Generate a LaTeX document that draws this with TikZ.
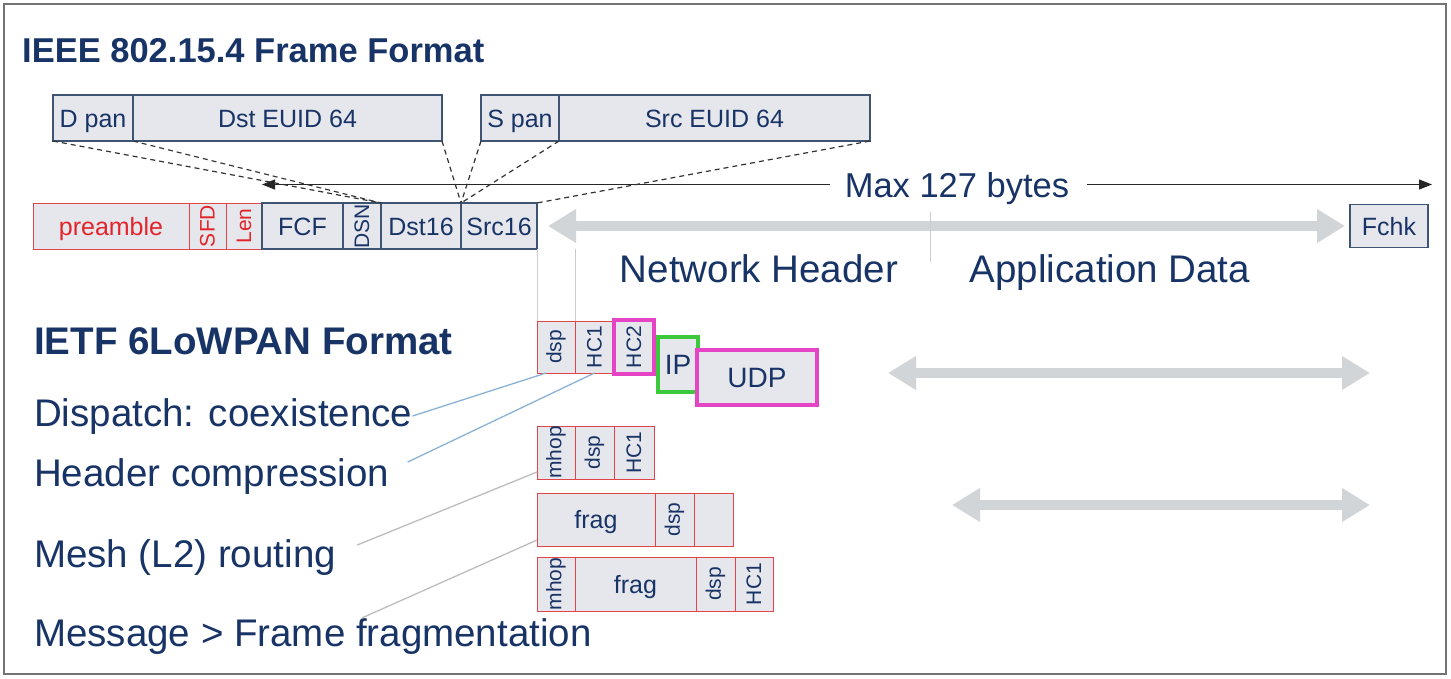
\documentclass[tikz,border=0pt]{standalone}
\usepackage{fontspec}
\setmainfont{Liberation Sans}
\usepackage{graphicx}
\usetikzlibrary{positioning, arrows.meta}

\definecolor{navy}{RGB}{24,52,102}
\definecolor{frameblue}{RGB}{61,85,115}
\definecolor{boxfill}{RGB}{230,231,236}
\definecolor{framered}{RGB}{224,69,74}
\definecolor{txtred}{RGB}{227,36,43}
\definecolor{hcmagenta}{RGB}{229,69,196}
\definecolor{ipgreen}{RGB}{60,200,60}
\definecolor{arrgrey}{RGB}{210,213,216}
\definecolor{leadblue}{RGB}{138,178,214}
\definecolor{leadgrey}{RGB}{189,189,189}

\begin{document}
\begin{tikzpicture}[x=1pt, y=-1pt,
    box/.style = {draw=frameblue, fill=boxfill, line width=1.3pt, inner sep=0pt, outer sep=0pt,
        text=navy, font=\fontsize{25}{25}\selectfont, text height=18pt, text depth=0pt, minimum height=46pt},
    rbox/.style = {box, draw=framered, line width=1pt},
    vtext/.style = {font=\fontsize{21}{21}\selectfont, text height={}, text depth={}},
    lbl/.style = {inner sep=0pt, text=navy, font=\fontsize{38.5}{40}\selectfont},
    hilite/.style = {line width=3.5pt},
    garrow/.style = {draw=arrgrey, line width=10pt, {Triangle[length=28pt,width=32pt]}-{Triangle[length=28pt,width=32pt]}},
    maxarrow/.style = {draw=black!85, line width=1.1pt, -{Triangle[length=13pt,width=10pt]}},
    dashline/.style = {draw=black!80, line width=1.2pt, dash pattern=on 5pt off 4pt},
    sepline/.style = {draw=black!20, line width=1pt}]

\useasboundingbox (0,0) rectangle (1451,678);
\fill[white] (0,0) rectangle (1451,678);
\draw[draw=black!55, line width=1.3pt] (4,4) rectangle (1446,674);

% IEEE 802.15.4
\node[lbl, anchor=base west, font=\fontsize{34.5}{36}\selectfont\bfseries] (title) at (22,62) {IEEE 802.15.4 Frame Format};

\node[box, minimum width=80pt, anchor=west] (dpan) at (53,118) {D pan};
\node[box, minimum width=309pt, right=0pt of dpan] (dsteuid) {Dst EUID 64};
\node[box, minimum width=78pt, anchor=west] (span) at (481,118) {S pan};
\node[box, minimum width=311pt, right=0pt of span] (srceuid) {Src EUID 64};

\node[rbox, text=txtred, minimum width=156pt, anchor=west] (preamble) at (33,226) {preamble};
\node[rbox, vtext, text=txtred, minimum width=37pt, right=0pt of preamble] (sfd) {\rotatebox{90}{SFD}};
\node[rbox, vtext, text=txtred, minimum width=36pt, right=0pt of sfd] (len) {\rotatebox{90}{Len}};
\node[box, minimum width=81pt, right=0pt of len] (fcf) {FCF};
\node[box, vtext, minimum width=38pt, right=0pt of fcf] (dsn) {\rotatebox{90}{DSN}};
\node[box, minimum width=80pt, right=0pt of dsn] (dst16) {Dst16};
\node[box, minimum width=76pt, right=0pt of dst16] (src16) {Src16};
\node[box, minimum width=78pt, minimum height=43pt] (fchk) at (1389,226) {Fchk};

\node[lbl, anchor=base, font=\fontsize{34.5}{36}\selectfont, text height=25pt, text depth=0pt] (maxlbl) at (957,197) {Max 127 bytes};
\coordinate (maxL) at (262,184.5);
\coordinate (maxR) at (1432,184.5);
\draw[maxarrow] ([xshift=-15pt]maxlbl.west) -- (maxL);
\draw[maxarrow] ([xshift=18pt]maxlbl.east) -- (maxR);

\draw[dashline] (dpan.south west) -- (dst16.north west);
\draw[dashline] (dpan.south east) -- (dst16.north west);
\draw[dashline] (dsteuid.south east) -- (dst16.north east);
\draw[dashline] (span.south west) -- (src16.north west);
\draw[dashline] (srceuid.south west) -- (src16.north west);
\draw[dashline] (srceuid.south east) -- (src16.north east);

\draw[garrow, shorten <=11pt, shorten >=5pt] (src16.east) -- (fchk.west);
\draw[sepline] (930,212) -- (930,262);

\node[lbl, anchor=base] (nethdr) at (759,282) {Network Header};
\node[lbl, anchor=base] (appdata) at (1110,282) {Application Data};

% IETF 6LoWPAN
\node[lbl, anchor=base west, font=\fontsize{38.5}{40}\selectfont\bfseries] (ietf) at (34,354) {IETF 6LoWPAN Format};
\node[lbl, anchor=base west] (dispatch) at (34,426) {Dispatch: coexistence};
\node[lbl, anchor=base west] (hdrc) at (34,486) {Header compression};
\node[lbl, anchor=base west] (mesh) at (34,567) {Mesh (L2) routing};
\node[lbl, anchor=base west] (msg) at (34,646) {Message > Frame fragmentation};

\node[rbox, vtext, minimum width=38pt, minimum height=52pt, anchor=west] (dsp1) at (537,347) {\rotatebox{90}{dsp}};
\node[rbox, vtext, minimum width=39pt, minimum height=52pt, right=0pt of dsp1] (hc1a) {\rotatebox{90}{HC1}};
\node[rbox, vtext, hilite, draw=hcmagenta, minimum width=40pt, minimum height=54pt, right=0pt of hc1a] (hc2) {\rotatebox{90}{HC2}};
\node[box, hilite, draw=ipgreen, font=\fontsize{28}{28}\selectfont, text height=20pt, minimum width=40pt, minimum height=55pt] (ip) at (678,364.5) {IP};
\node[box, hilite, draw=hcmagenta, font=\fontsize{28}{28}\selectfont, text height=20pt, minimum width=120pt, minimum height=55pt] (udp) at (757,377.5) {UDP};

\node[rbox, vtext, minimum width=38pt, minimum height=53pt, anchor=west] (mhop2) at (537,452.5) {\rotatebox{90}{mhop}};
\node[rbox, vtext, minimum width=39pt, minimum height=53pt, right=0pt of mhop2] (dsp2) {\rotatebox{90}{dsp}};
\node[rbox, vtext, minimum width=40pt, minimum height=53pt, right=0pt of dsp2] (hc1b) {\rotatebox{90}{HC1}};

\node[rbox, minimum width=118pt, minimum height=53pt, anchor=west] (frag3) at (537,519.5) {frag};
\node[rbox, vtext, minimum width=39pt, minimum height=53pt, right=0pt of frag3] (dsp3) {\rotatebox{90}{dsp}};
\node[rbox, minimum width=39pt, minimum height=53pt, right=0pt of dsp3] (blank3) {};

\node[rbox, vtext, minimum width=38pt, minimum height=54pt, anchor=west] (mhop4) at (537,584) {\rotatebox{90}{mhop}};
\node[rbox, minimum width=121pt, minimum height=54pt, right=0pt of mhop4] (frag4) {frag};
\node[rbox, vtext, minimum width=39pt, minimum height=54pt, right=0pt of frag4] (dsp4) {\rotatebox{90}{dsp}};
\node[rbox, vtext, minimum width=38pt, minimum height=54pt, right=0pt of dsp4] (hc1d) {\rotatebox{90}{HC1}};

\draw[sepline] (src16.south east) -- (dsp1.north west);
\draw[sepline] (dsp1.north east) -- (dsp1.north east |- src16.south);

\draw[leadblue, line width=1.3pt] (dispatch.east) -- ([xshift=9pt]dsp1.south west);
\draw[leadblue, line width=1.3pt] ([xshift=18pt,yshift=14pt]hdrc.east) -- (hc1a.south);
\draw[leadgrey, line width=1.3pt] ([xshift=21pt,yshift=12pt]mesh.east) -- ([yshift=7pt]mhop2.south west);
\draw[leadgrey, line width=1.3pt] ([xshift=328pt]msg.north west) -- ([yshift=6pt]frag3.south west);

\coordinate (a1l) at (888,373);
\coordinate (a1r) at (1370,373);
\coordinate (a2l) at (952,505);
\coordinate (a2r) at (1370,505);
\draw[garrow] (a1l) -- (a1r);
\draw[garrow] (a2l) -- (a2r);
\end{tikzpicture}
\end{document}
